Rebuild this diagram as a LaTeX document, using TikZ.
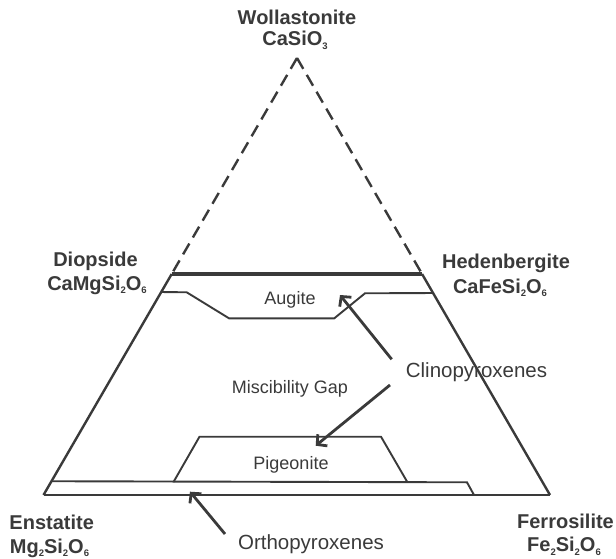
\documentclass[tikz,border=0pt]{standalone}
\usepackage{fontspec}
\setmainfont{Liberation Sans}
\usetikzlibrary{arrows.meta,calc}
\definecolor{ink}{HTML}{3A3A3A}
\newcommand\chemsub[1]{\raisebox{-0.35ex}{\fontsize{9.5}{10}\selectfont #1}}
\begin{document}
\begin{tikzpicture}[x=1pt,y=-1pt,
  every node/.style={inner sep=0pt,text=ink},
  vlabel/.style={font=\bfseries\fontsize{20}{22}\selectfont,anchor=base},
  flabel/.style={font=\fontsize{18}{20}\selectfont,anchor=base},
  clabel/.style={font=\fontsize{20.5}{22}\selectfont,anchor=base},
  sideline/.style={draw=ink,line width=2.4pt},
  dashside/.style={draw=ink,line width=2.4pt,dash pattern=on 12.5pt off 7pt},
  heavyline/.style={draw=ink,line width=3.4pt},
  fieldline/.style={draw=ink,line width=1.9pt,line join=miter},
  pointer/.style={draw=ink,line width=2.8pt,-{Straight Barb[length=7pt,width=15pt,line width=2.8pt]}}]
\useasboundingbox (0,0) rectangle (616,559);
% vertices
\coordinate (apex) at (297,58);
\coordinate (EN) at (43.5,495);
\coordinate (FS) at (550,495);
\coordinate (DL) at ($(apex)!0.4943!(EN)$);
\coordinate (DR) at ($(apex)!0.4943!(FS)$);
\coordinate (AL) at ($(apex)!0.5355!(EN)$);
\coordinate (AR) at ($(apex)!0.5378!(FS)$);
% triangle
\draw[dashside] (apex) -- (DL);
\draw[dashside] (apex) -- (DR);
\draw[sideline] (DL) -- (EN);
\draw[sideline] (DR) -- (FS);
\draw[draw=ink,line width=2.9pt] (EN) -- (FS);
\draw[heavyline] (DL) -- (DR);
% augite field
\draw[fieldline] (AL) -- (186.7,292.3) -- (229,318.3) -- (334.3,318.3) -- (365,293.3) -- (AR);
% pigeonite field
\draw[fieldline] (173.5,482) -- (199.5,436.7) -- (381,436.7) -- (407.3,482);
% orthopyroxene field
\coordinate (OL) at ($(apex)!0.9685!(EN)$);
\draw[fieldline] (OL) -- (467,482.3) -- (474,495);
% labels
\node[vlabel] (wo) at (297,25) {Wollastonite};
\node[vlabel] (wof) at (295,45.7) {CaSiO\chemsub{3}};
\node[vlabel] (di) at (95.5,266.7) {Diopside};
\node[vlabel] (dif) at (97,290) {CaMgSi\chemsub{2}O\chemsub{6}};
\node[vlabel] (hd) at (506,268) {Hedenbergite};
\node[vlabel] (hdf) at (500,293) {CaFeSi\chemsub{2}O\chemsub{6}};
\node[vlabel] (en) at (51.7,529) {Enstatite};
\node[vlabel] (enf) at (49.5,553) {Mg\chemsub{2}Si\chemsub{2}O\chemsub{6}};
\node[vlabel] (fs) at (565.5,528) {Ferrosilite};
\node[vlabel] (fsf) at (564,551.7) {Fe\chemsub{2}Si\chemsub{2}O\chemsub{6}};
\node[flabel] (aug) at (290,304.5) {Augite};
\node[flabel] (gap) at (290,393.3) {Miscibility Gap};
\node[flabel] (pig) at (291,469) {Pigeonite};
\node[clabel] (cpx) at (476.5,377.7) {Clinopyroxenes};
\node[clabel] (opx) at (311,549) {Orthopyroxenes};
% pointers
\coordinate (cpxA) at (391.7,359.3);
\coordinate (cpxB) at (390,385);
\coordinate (opxA) at (225,534);
\coordinate (augT) at (340,295);
\coordinate (pigT) at (315.7,445.7);
\coordinate (opxT) at (190,491.7);
\draw[pointer] (cpxA) -- (augT);
\draw[pointer] (cpxB) -- (pigT);
\draw[pointer] (opxA) -- (opxT);
\end{tikzpicture}
\end{document}
